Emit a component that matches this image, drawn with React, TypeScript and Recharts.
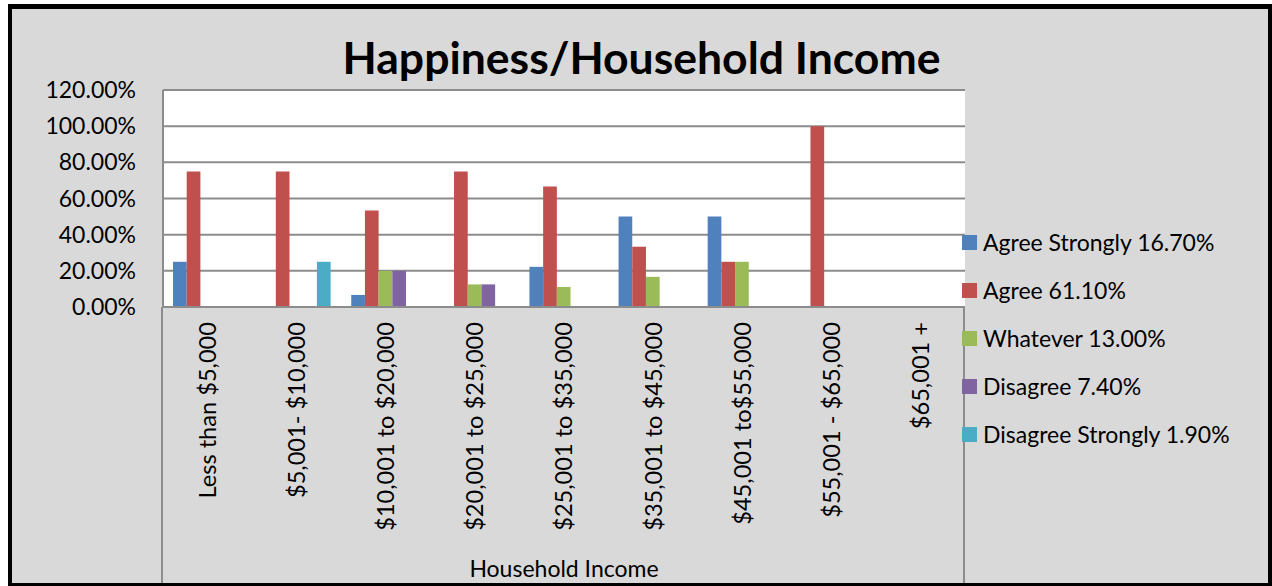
import React from 'react';
import { BarChart, Bar, XAxis, YAxis, CartesianGrid, Legend } from 'recharts';

const FONT = 'Lato, "Open Sans", sans-serif';

const categories = [
  'Less than $5,000',
  '$5,001- $10,000',
  '$10,001 to $20,000',
  '$20,001 to $25,000',
  '$25,001 to $35,000',
  '$35,001 to $45,000',
  '$45,001 to$55,000',
  '$55,001 - $65,000',
  '$65,001 +',
];

const agreeStrongly = [25, null, 6.67, null, 22.22, 50, 50, null, null];
const agree = [75, 75, 53.33, 75, 66.67, 33.33, 25, 100, null];
const whatever = [null, null, 20, 12.5, 11.11, 16.67, 25, null, null];
const disagree = [null, null, 20, 12.5, null, null, null, null, null];
const disagreeStrongly = [null, 25, null, null, null, null, null, null, null];

const seriesKeys = ['agreeStrongly', 'agree', 'whatever', 'disagree', 'disagreeStrongly'];
const seriesNames = [
  'Agree Strongly 16.70%',
  'Agree 61.10%',
  'Whatever 13.00%',
  'Disagree 7.40%',
  'Disagree Strongly 1.90%',
];
const seriesColors = ['#4f81bd', '#c0504d', '#9bbb59', '#8064a2', '#4bacc6'];
const yTicks = [0, 20, 40, 60, 80, 100, 120];

const seriesValues = [agreeStrongly, agree, whatever, disagree, disagreeStrongly];

const data = categories.map((c, i) => {
  const row: any = { category: c };
  seriesKeys.forEach((k, s) => {
    row[k] = seriesValues[s][i];
  });
  return row;
});

const XTick = (props: any) => {
  const { x, y, payload } = props;
  return (
    <text
      x={x}
      y={y}
      dy="0.36em"
      textAnchor="end"
      transform={`rotate(-90, ${x}, ${y})`}
      fontSize={23.6}
      fontFamily={FONT}
      fill="#000"
    >
      {payload.value}
    </text>
  );
};

const LegendContent = () => (
  <div style={{ fontFamily: FONT, fontSize: 23, color: '#000' }}>
    {seriesNames.map((n, i) => (
      <div key={n} style={{ height: 48, display: 'flex', alignItems: 'center', whiteSpace: 'nowrap' }}>
        <span style={{ display: 'inline-block', width: 15, height: 15, background: seriesColors[i], marginRight: 6 }} />
        <span>{n}</span>
      </div>
    ))}
  </div>
);

export default function App() {
  return (
    <div style={{ position: 'absolute', left: 0, top: 0, width: 1272, height: 586, overflow: 'hidden', background: '#fff' }}>
      <div
        style={{
          position: 'absolute',
          left: 8,
          top: 4,
          width: 1264,
          height: 583,
          boxSizing: 'border-box',
          background: '#d9d9d9',
          borderStyle: 'solid',
          borderColor: '#000',
          borderWidth: '5px 4px 4px 4px',
        }}
      />
      <div
        style={{
          position: 'absolute',
          left: 0,
          top: 35,
          width: 1283,
          textAlign: 'center',
          fontFamily: FONT,
          fontWeight: 700,
          fontSize: 44.5,
          lineHeight: 1,
          color: '#000',
        }}
      >
        Happiness/Household Income
      </div>
      <div style={{ position: 'absolute', left: 161, top: 307, width: 2, height: 276, background: '#8c8c8c' }} />
      <div style={{ position: 'absolute', left: 963, top: 307, width: 2, height: 276, background: '#8c8c8c' }} />
      <div style={{ position: 'absolute', left: 0, top: 0 }}>
        <BarChart
          width={1272}
          height={586}
          data={data}
          margin={{ top: 90, right: 307, left: 0, bottom: 0 }}
          barSize={13.7}
          barGap={0}
        >
          <CartesianGrid vertical={false} stroke="#8c8c8c" strokeWidth={2} fill="#ffffff" />
          <XAxis
            dataKey="category"
            height={279}
            interval={0}
            tickLine={false}
            tickSize={0}
            tickMargin={15}
            axisLine={{ stroke: '#8c8c8c', strokeWidth: 2 }}
            tick={<XTick />}
            label={{ value: 'Household Income', position: 'insideBottom', offset: 9, fill: '#000', fontSize: 23, fontFamily: FONT }}
          />
          <YAxis
            width={163}
            domain={[0, 120]}
            ticks={yTicks}
            interval={0}
            tickLine={false}
            tickSize={8}
            tickMargin={19}
            axisLine={{ stroke: '#8c8c8c', strokeWidth: 2 }}
            tickFormatter={(v: number) => v.toFixed(2) + '%'}
            tick={{ fill: '#000', fontSize: 23, fontFamily: FONT }}
          />
          <Legend
            layout="vertical"
            align="center"
            verticalAlign="middle"
            content={<LegendContent />}
            wrapperStyle={{ position: 'absolute', left: 962, top: 218, width: 300, height: 240 }}
          />
          {seriesKeys.map((k, i) => (
            <Bar key={k} dataKey={k} name={seriesNames[i]} fill={seriesColors[i]} isAnimationActive={false} />
          ))}
        </BarChart>
      </div>
    </div>
  );
}
